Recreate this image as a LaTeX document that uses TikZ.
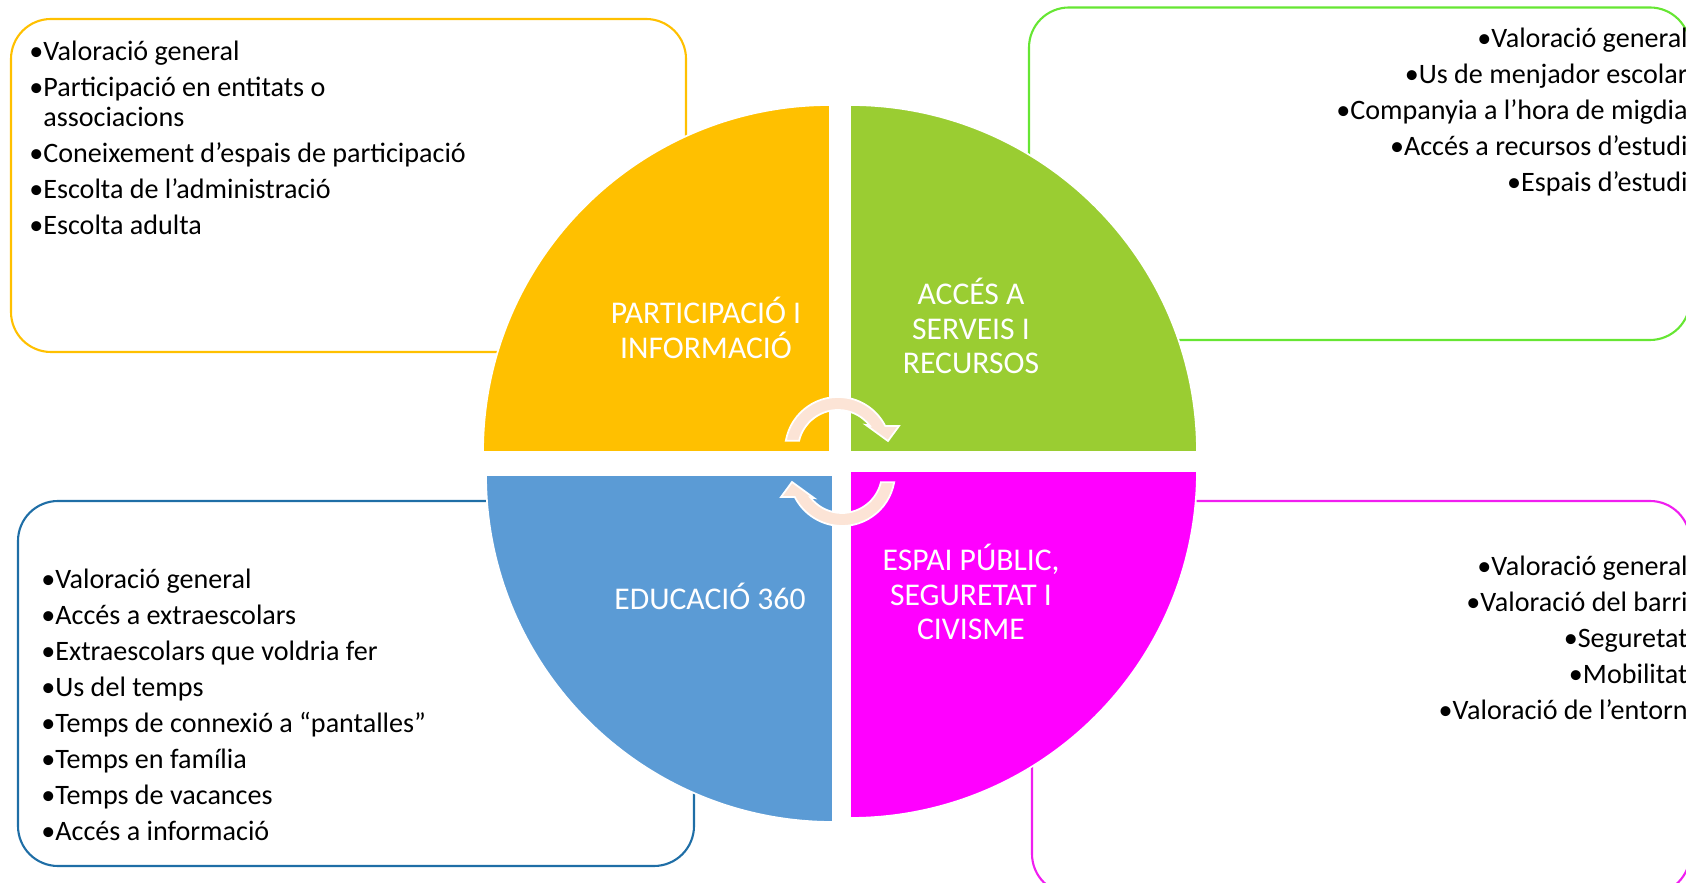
\documentclass[tikz,border=0pt]{standalone}
\usepackage{fontspec}
\setmainfont{Carlito}
\usetikzlibrary{positioning}

\definecolor{partyellow}{HTML}{FFC000}
\definecolor{accgreen}{HTML}{9ACD32}
\definecolor{accline}{HTML}{66E633}
\definecolor{edublue}{HTML}{5B9BD5}
\definecolor{eduline}{HTML}{1F6EA6}
\definecolor{espmagenta}{HTML}{FF00FF}
\definecolor{espline}{HTML}{F01EF0}
\definecolor{cyclefill}{HTML}{FCE4D6}

\begin{document}
\begin{tikzpicture}[
    x=0.02cm,
    y=0.02cm,
    topicbox/.style={
        line width=1.2pt,
        rounded corners=0.8cm,
    },
    quarter/.style={
        draw=white,
        line width=1pt,
    },
    topic/.style={
        text=white,
        align=center,
        inner sep=0pt,
        font=\fontsize{18}{19.6}\selectfont,
    },
    items/.style={
        inner sep=0pt,
        font=\fontsize{16}{17.1}\selectfont,
    },
    cyclearrow/.style={
        fill=cyclefill,
        draw=white,
        line width=1pt,
    },
    turnarrow/.pic={
        \path[cyclearrow] (169.9:53) arc[start angle=169.9, end angle=27, radius=53]
            -- (61,24) -- (50,9) -- (28,25) -- (37.7:40)
            arc[start angle=37.7, end angle=166.6, radius=40] -- cycle;
    }
]
    \useasboundingbox (0,0) rectangle (1686,882);
    \clip (0,0) rectangle (1686,882);

    % Boxes
    \draw[topicbox, partyellow] (11,530) rectangle (686,863);
    \draw[topicbox, accline] (1029,542) rectangle (1690,874.5);
    \draw[topicbox, eduline] (18,16) rectangle (694,381);
    \draw[topicbox, espline] (1032,-12) rectangle (1690,381);

    % Quarters
    \path[quarter, fill=partyellow] (830,430) -- ++(-347,0) arc[start angle=180, end angle=90, radius=347] -- cycle;
    \path[quarter, fill=accgreen] (850,430) -- ++(0,347) arc[start angle=90, end angle=0, radius=347] -- cycle;
    \path[quarter, fill=edublue] (833,407) -- ++(0,-347) arc[start angle=270, end angle=180, radius=347] -- cycle;
    \path[quarter, fill=espmagenta] (850,411) -- ++(347,0) arc[start angle=0, end angle=-90, radius=347] -- cycle;

    % Quarter labels
    \node[topic] (part) at (706,554) {PARTICIPACIÓ I\\INFORMACIÓ};
    \node[topic] (acces) at (971,556) {ACCÉS A\\SERVEIS I\\RECURSOS};
    \node[topic] (edu) at (710,286) {EDUCACIÓ 360};
    \node[topic] (espai) at (971,290) {ESPAI PÚBLIC,\\SEGURETAT I\\CIVISME};

    % Cycle arrows
    \pic at (838,432) {turnarrow};
    \pic[rotate=180] at (842,409) {turnarrow};

    % Lists
    \node[items, align=left, anchor=north west] (partlist) at (29,841) {%
        •Valoració general\\[3.4pt]
        •Participació en entitats o\\
        \phantom{•}associacions\\[3.4pt]
        •Coneixement d’espais de participació\\[3.4pt]
        •Escolta de l’administració\\[3.4pt]
        •Escolta adulta};
    \node[items, align=right, anchor=north east] (acceslist) at (1688,854) {%
        •Valoració general\\[3.4pt]
        •Us de menjador escolar\\[3.4pt]
        •Companyia a l’hora de migdia\\[3.4pt]
        •Accés a recursos d’estudi\\[3.4pt]
        •Espais d’estudi};
    \node[items, align=left, anchor=north west] (edulist) at (41,313) {%
        •Valoració general\\[3.4pt]
        •Accés a extraescolars\\[3.4pt]
        •Extraescolars que voldria fer\\[3.4pt]
        •Us del temps\\[3.4pt]
        •Temps de connexió a “pantalles”\\[3.4pt]
        •Temps en família\\[3.4pt]
        •Temps de vacances\\[3.4pt]
        •Accés a informació};
    \node[items, align=right, anchor=north east] (espailist) at (1688,326) {%
        •Valoració general\\[3.4pt]
        •Valoració del barri\\[3.4pt]
        •Seguretat\\[3.4pt]
        •Mobilitat\\[3.4pt]
        •Valoració de l’entorn};
\end{tikzpicture}
\end{document}
